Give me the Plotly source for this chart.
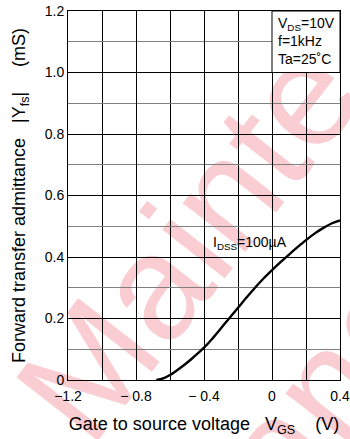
import plotly.graph_objects as go

# Data
vgs = [-0.68, -0.64, -0.60, -0.55, -0.50, -0.45, -0.40, -0.35, -0.30, -0.25, -0.20,
       -0.15, -0.10, -0.05, 0.00, 0.05, 0.10, 0.15, 0.20, 0.25, 0.30, 0.35, 0.40]
yfs = [0.000, 0.005, 0.016, 0.035, 0.056, 0.080, 0.105, 0.135, 0.168, 0.202, 0.235,
       0.268, 0.300, 0.330, 0.357, 0.383, 0.408, 0.432, 0.455, 0.476, 0.494, 0.509, 0.519]

x_tickvals = [-1.2, -0.8, -0.4, 0.0, 0.4]
x_ticktext = ["\u22121.2", "\u2212 0.8", "\u2212 0.4", "0", "0.4"]
y_tickvals = [0, 0.2, 0.4, 0.6, 0.8, 1.0, 1.2]
y_ticktext = ["0", "0.2", "0.4", "0.6", "0.8", "1.0", "1.2"]

FONT = "Liberation Sans, Arial, sans-serif"
PINK = "#f9cdd2"
NB = "\u00a0"

fig = go.Figure()
fig.add_trace(go.Scatter(x=vgs, y=yfs, mode="lines",
                         line=dict(color="black", width=2.4, shape="spline"),
                         showlegend=False, hoverinfo="skip"))

# watermark (below grid)
fig.add_shape(type="rect", xref="paper", yref="paper", x0=-0.3, x1=1.1, y0=-0.2, y1=1.0,
              layer="below", line=dict(width=0), fillcolor="rgba(0,0,0,0)",
              label=dict(text="Mainte", textangle=-52, textposition="middle center",
                         font=dict(size=150, color=PINK, family=FONT)))
fig.add_shape(type="rect", xref="paper", yref="paper", x0=0.3, x1=1.5, y0=-0.5, y1=0.5,
              layer="below", line=dict(width=0), fillcolor="rgba(0,0,0,0)",
              label=dict(text="nance", textangle=-52, textposition="middle center",
                         font=dict(size=150, color=PINK, family=FONT)))

# condition box
fig.add_shape(type="rect", xref="x", yref="y", x0=0.0, x1=0.4, y0=1.0, y1=1.2,
              layer="above", fillcolor="white", line=dict(color="black", width=1))
fig.add_annotation(x=0.025, y=1.195, xref="x", yref="y", xanchor="left", yanchor="top",
                   showarrow=False, align="left",
                   text="V<sub>DS</sub>=10V<br>f=1kHz<br>Ta=25\u02daC",
                   font=dict(size=14, color="black", family=FONT))
fig.add_annotation(x=-0.13, y=0.445, xref="x", yref="y", xanchor="center", yanchor="middle",
                   showarrow=False, text="I<sub>DSS</sub>=100\u00b5A",
                   font=dict(size=14, color="black", family=FONT))

fig.update_layout(
    width=350, height=439,
    margin=dict(l=68, r=10, t=11, b=59),
    paper_bgcolor="white", plot_bgcolor="rgba(0,0,0,0)",
    font=dict(family=FONT, color="black"),
)
fig.update_xaxes(range=[-1.2, 0.4], tickvals=x_tickvals, ticktext=x_ticktext,
                 automargin=False, ticklabelstandoff=3,
                 showgrid=True, gridcolor="black", gridwidth=1,
                 minor=dict(dtick=0.2, tick0=-1.2, showgrid=True, gridcolor="black", gridwidth=1),
                 showline=True, mirror=True, linecolor="black", linewidth=1,
                 ticks="", zeroline=False, tickfont=dict(size=14),
                 title=dict(text="Gate to source voltage" + NB * 3 + "V<sub>GS</sub>" + NB * 4 + "(V)",
                            font=dict(size=18), standoff=14))
fig.update_yaxes(range=[0, 1.2], tickvals=y_tickvals, ticktext=y_ticktext,
                 automargin=False,
                 showgrid=True, gridcolor="black", gridwidth=1,
                 minor=dict(dtick=0.1, tick0=0, showgrid=True, gridcolor="#808080", gridwidth=1),
                 showline=True, mirror=True, linecolor="black", linewidth=1,
                 ticks="", zeroline=False, tickfont=dict(size=14),
                 title=dict(text="Forward transfer admittance" + NB * 3 + "|Y<sub>fs</sub>|" + NB * 5 + "(mS)",
                            font=dict(size=18), standoff=14))

fig.write_html("out.html")
